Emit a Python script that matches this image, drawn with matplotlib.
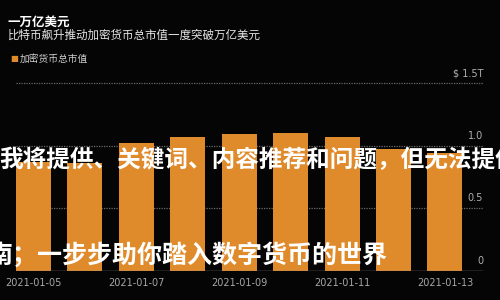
import matplotlib.pyplot as plt
import matplotlib.transforms as mtransforms

plt.rcParams['font.family'] = ['Noto Sans CJK SC', 'DejaVu Sans']

days = ['2021-01-05', '2021-01-06', '2021-01-07', '2021-01-08', '2021-01-09',
        '2021-01-10', '2021-01-11', '2021-01-12', '2021-01-13']
market_cap = [0.87, 0.86, 1.02, 1.07, 1.09, 1.10, 1.07, 0.97, 0.94]  # trillion USD
y_ticks = [0, 0.5, 1.0, 1.5]
y_labels = ['0', '0.5', '1.0', '$ 1.5T']

bg = '#050505'
orange = '#E08B2B'

fig = plt.figure(figsize=(5, 3), dpi=100, facecolor=bg)
ax = fig.add_axes([16/500, 29/300, 467/500, 200.5/300], facecolor=bg)

x = list(range(len(days)))
ax.bar(x, market_cap, width=0.68, color=orange, zorder=2)
ax.set_xlim(-0.34, len(days) - 1 + 0.74)
ax.set_ylim(0, 1.6)

for v in y_ticks[1:]:
    ax.axhline(v, color='#6a6a6a', lw=0.9, ls=(0, (1, 1)), zorder=1)
ax.axhline(0, color='#8a8a8a', lw=1.0, zorder=3)

# right-hand value labels sit just above their gridlines
trans = mtransforms.blended_transform_factory(ax.transAxes, ax.transData)
for v, lab in zip(y_ticks, y_labels):
    ax.text(1.0, v + 0.04, lab, transform=trans, ha='right', va='bottom',
            color='#b0b0b0', fontsize=7, family=['DejaVu Sans'])

ax.set_xticks(x[::2])
ax.set_xticklabels(days[::2], color='#a8a8a8', fontsize=7, family=['DejaVu Sans'])
ax.tick_params(axis='x', length=0, pad=5)
ax.set_yticks([])
for s in ax.spines.values():
    s.set_visible(False)

fig.text(8/500, 1 - 22/300, '一万亿美元', color='white', fontsize=9,
         fontweight='bold', va='center')
fig.text(8/500, 1 - 35/300, '比特币飙升推动加密货币总市值一度突破万亿美元',
         color='#e6e6e6', fontsize=8.3, va='center')
fig.text(10/500, 1 - 59/300, '■', color=orange, fontsize=6, va='center',
         family=['DejaVu Sans'])
fig.text(20/500, 1 - 59/300, '加密货币总市值', color='#cfcfcf', fontsize=7,
         va='center')

# overlay text (clipped at the edges as in the original)
fig.text(-1/500, 1 - 160/300, '我将提供、关键词、内容推荐和问题，但无法提供',
         color='white', fontsize=17, fontweight='bold', va='center', zorder=5)
fig.text(-12/500, 1 - 255/300, '南；一步步助你踏入数字货币的世界',
         color='white', fontsize=18, fontweight='bold', va='center', zorder=5)

fig.savefig('out.png', dpi=100, facecolor=bg)
